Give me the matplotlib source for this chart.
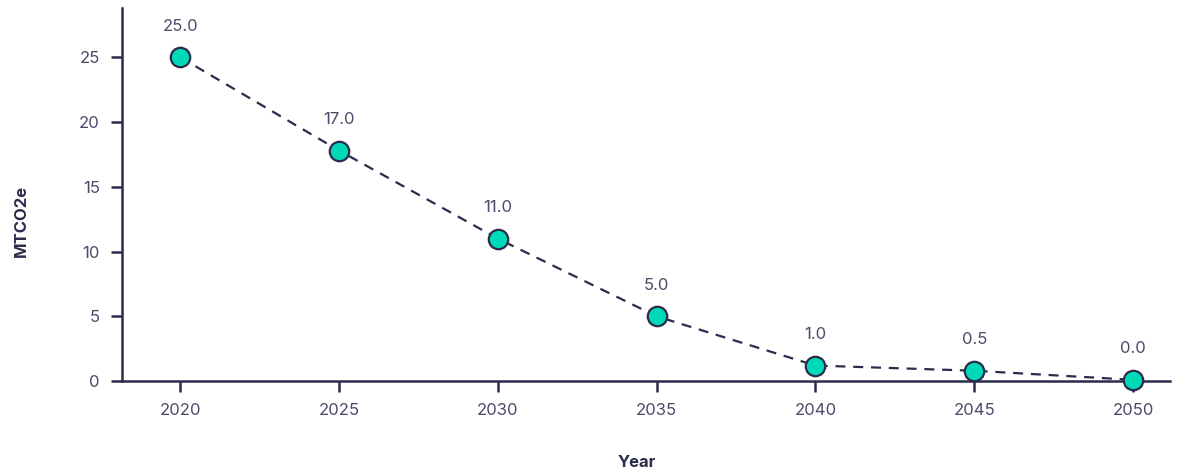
import matplotlib
matplotlib.use('Agg')
import matplotlib.pyplot as plt

# 数据
years = [2020, 2025, 2030, 2035, 2040, 2045, 2050]
emissions = [25.0, 17.8, 11.0, 5.0, 1.2, 0.8, 0.1]
labels = ['25.0', '17.0', '11.0', '5.0', '1.0', '0.5', '0.0']

navy = '#2b2c4c'
teal = '#00d9b8'
txt = '#4a4b6a'

plt.rcParams['font.family'] = ['Inter', 'DejaVu Sans']

fig = plt.figure(figsize=(11.78, 4.74), dpi=100)
ax = fig.add_axes([0.1036, 0.196, 0.8896, 0.787])

ax.plot(years, emissions, linestyle=(0, (4.5, 3.5)), color=navy, linewidth=1.6,
        marker='o', markersize=14, markerfacecolor=teal, markeredgecolor=navy,
        markeredgewidth=1.6, clip_on=False, zorder=3)

for x, y, s in zip(years, emissions, labels):
    ax.annotate(s, (x, y), xytext=(0, 17), textcoords='offset points',
                ha='center', va='bottom', fontsize=12, color=txt)

ax.set_xlim(2018.17, 2051.16)
ax.set_ylim(0, 28.8)
ax.set_xticks(years)
ax.set_yticks([0, 5, 10, 15, 20, 25])

for side in ['top', 'right']:
    ax.spines[side].set_visible(False)
for side in ['left', 'bottom']:
    ax.spines[side].set_color(navy)
    ax.spines[side].set_linewidth(1.8)

ax.tick_params(axis='both', colors=navy, labelcolor=txt, labelsize=12,
               length=8, width=1.8, pad=8)

ax.set_xlabel('Year', fontsize=12, fontweight='bold', color=navy)
ax.set_ylabel('MTCO2e', fontsize=12, fontweight='bold', color=navy)
ax.xaxis.set_label_coords(0.491, -0.198)
ax.yaxis.set_label_coords(-0.089, 0.43)

fig.savefig('out.png', dpi=100)
